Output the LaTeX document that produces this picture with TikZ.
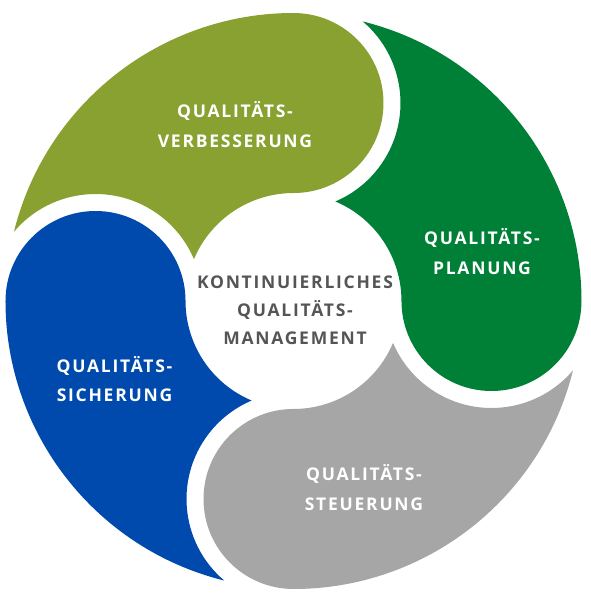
\documentclass[tikz,border=0pt]{standalone}
\usepackage{fontspec}
\setmainfont{Open Sans}
\newfontfamily\lblfont{Open Sans}[LetterSpace=10]
\definecolor{olivec}{RGB}{137,161,48}
\definecolor{greenc}{RGB}{0,128,55}
\definecolor{bluec}{RGB}{0,74,173}
\definecolor{grayc}{RGB}{166,166,166}
\definecolor{textc}{RGB}{85,85,85}
\begin{document}
\begin{tikzpicture}[x=1pt,y=1pt,
  piece/.pic={
    \fill[pic actions] (0:288) arc[start angle=0, end angle=76.08, radius=288]
      arc[start angle=49.65, end angle=-66.96, radius=107]
      arc[start angle=67.17, end angle=0, radius=108]
      arc[start angle=180, end angle=360, radius=90] -- cycle;
  },
  lbl/.style={text=white, font=\lblfont\bfseries\fontsize{17.5}{29.5}\selectfont, align=center, inner sep=0pt},
  ctr/.style={text=textc, font=\lblfont\bfseries\fontsize{17.5}{28}\selectfont, align=center, inner sep=0pt}]
\useasboundingbox (-293.5,-302) rectangle (296.5,301);
\pic[fill=greenc] {piece};
\pic[fill=olivec, rotate=90] {piece};
\pic[fill=bluec, rotate=180] {piece};
\pic[fill=grayc, rotate=270] {piece};
\node[lbl] (verb) at (-58.5,176.5) {QUALITÄTS-\\VERBESSERUNG};
\node[lbl] (plan) at (188.5,49.5) {QUALITÄTS-\\PLANUNG};
\node[lbl] (sich) at (-179,-78) {QUALITÄTS-\\SICHERUNG};
\node[lbl] (steu) at (70.5,-186.5) {QUALITÄTS-\\STEUERUNG};
\node[ctr] (kqm) at (1.5,-9) {KONTINUIERLICHES\\QUALITÄTS-\\MANAGEMENT};
\end{tikzpicture}
\end{document}
